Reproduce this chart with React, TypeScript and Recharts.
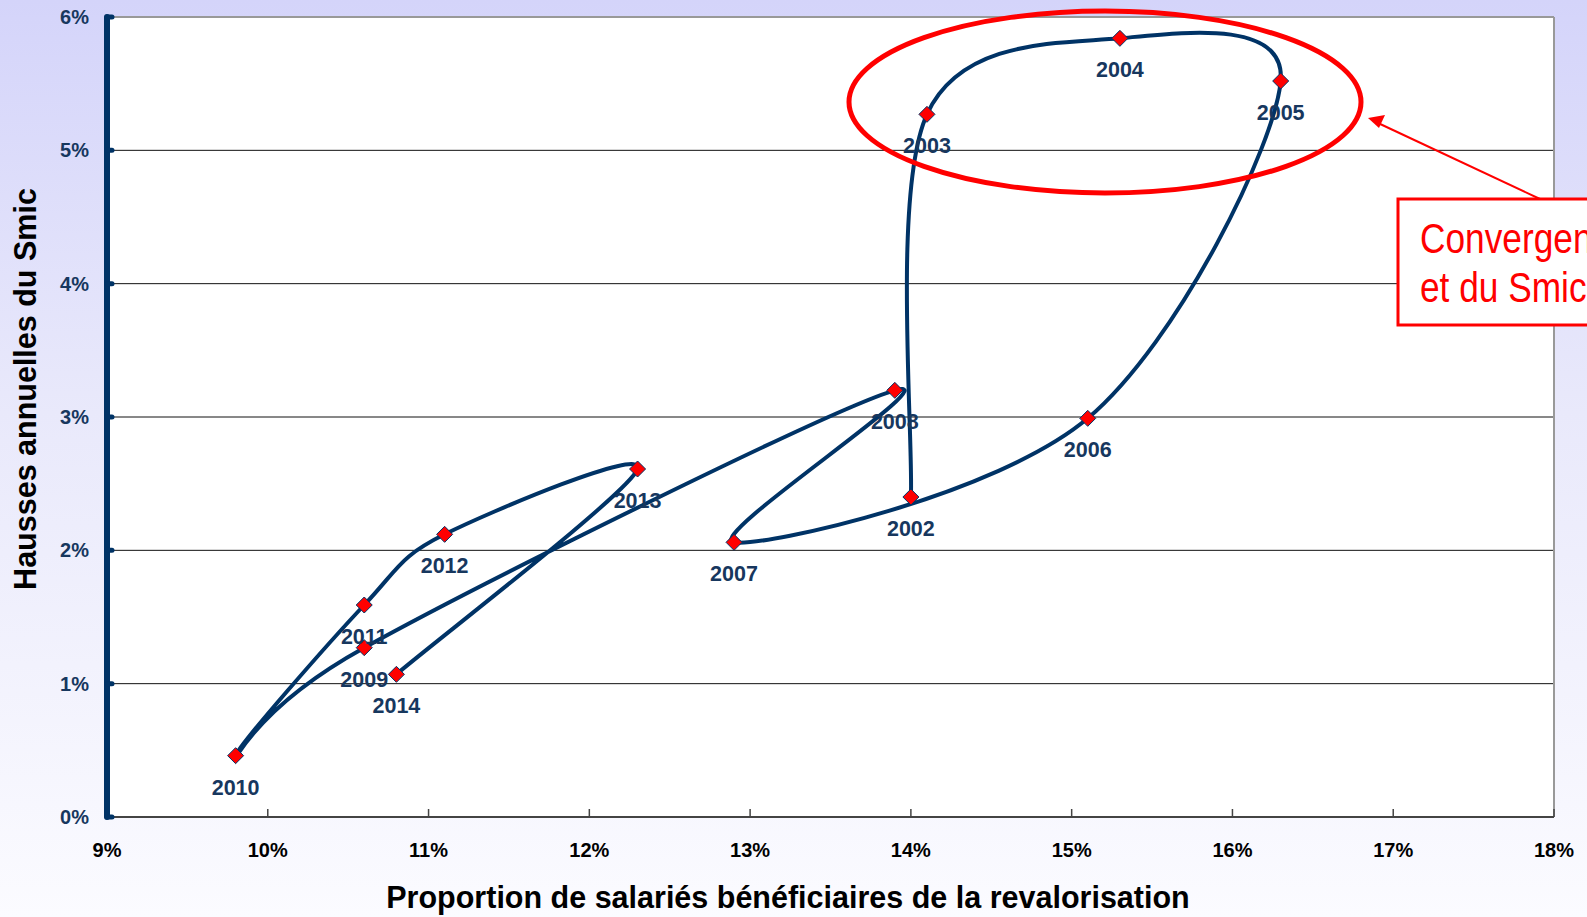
import React from 'react'
import {
  ComposedChart,
  Line,
  XAxis,
  YAxis,
  CartesianGrid,
  ReferenceLine,
  LabelList,
} from 'recharts'

const years = [2002, 2003, 2004, 2005, 2006, 2007, 2008, 2009, 2010, 2011, 2012, 2013, 2014]
const proportion = [14.0, 14.1, 15.3, 16.3, 15.1, 12.9, 13.9, 10.6, 9.8, 10.6, 11.1, 12.3, 10.8]
const hausse = [2.4, 5.27, 5.84, 5.52, 2.99, 2.06, 3.2, 1.27, 0.46, 1.59, 2.12, 2.61, 1.07]

const xTicks = [9, 10, 11, 12, 13, 14, 15, 16, 17, 18]
const yTicks = [0, 1, 2, 3, 4, 5, 6]

const data = years.map((year, i) => ({ year, x: proportion[i], y: hausse[i] }))

const NAVY = '#003366'
const FONT = '"Liberation Sans", Arial, sans-serif'

// smoothed line like Excel's "lissage" (catmull-rom as bezier)
function smoothCurve(context: any) {
  let pts: number[][] = []
  return {
    areaStart() {},
    areaEnd() {},
    lineStart() {
      pts = []
    },
    point(x: number, y: number) {
      pts.push([+x, +y])
    },
    lineEnd() {
      const n = pts.length
      if (!n) return
      context.moveTo(pts[0][0], pts[0][1])
      for (let i = 0; i < n - 1; i++) {
        const p0 = pts[Math.max(i - 1, 0)]
        const p1 = pts[i]
        const p2 = pts[i + 1]
        const p3 = pts[Math.min(i + 2, n - 1)]
        context.bezierCurveTo(
          p1[0] + (p2[0] - p0[0]) / 6,
          p1[1] + (p2[1] - p0[1]) / 6,
          p2[0] - (p3[0] - p1[0]) / 6,
          p2[1] - (p3[1] - p1[1]) / 6,
          p2[0],
          p2[1]
        )
      }
    },
  }
}

function Diamond(props: any) {
  const { cx, cy } = props
  if (cx == null || cy == null) return null
  const r = 8
  return (
    <path
      d={`M${cx},${cy - r}L${cx + r},${cy}L${cx},${cy + r}L${cx - r},${cy}Z`}
      fill="#ff0000"
      stroke={NAVY}
      strokeWidth={1}
    />
  )
}

function YearLabel(props: any) {
  const x = props.x ?? props.viewBox?.x
  const y = props.y ?? props.viewBox?.y
  if (x == null || y == null) return null
  return (
    <text
      x={x}
      y={y + 32}
      textAnchor="middle"
      dominantBaseline="central"
      fontFamily={FONT}
      fontWeight="bold"
      fontSize={21.5}
      fill="#17375e"
    >
      {props.value}
    </text>
  )
}

function YTick(props: any) {
  const { x, y, payload } = props
  return (
    <g>
      <line x1={x + 8} x2={x + 13} y1={y} y2={y} stroke={NAVY} strokeWidth={5} strokeLinecap="round" />
      <text
        x={x - 10}
        y={y}
        textAnchor="end"
        dominantBaseline="central"
        fontFamily={FONT}
        fontWeight="bold"
        fontSize={20}
        fill="#17375e"
      >
        {payload.value}%
      </text>
    </g>
  )
}

function XTick(props: any) {
  const { x, y, payload } = props
  return (
    <g>
      {payload.value > 9 && (
        <line x1={x} x2={x} y1={y - 8} y2={y - 16} stroke="#444" strokeWidth={1.5} />
      )}
      <text
        x={x}
        y={y + 25}
        textAnchor="middle"
        dominantBaseline="central"
        fontFamily={FONT}
        fontWeight="bold"
        fontSize={20}
        fill="#000"
      >
        {payload.value}%
      </text>
    </g>
  )
}

export default function App() {
  return (
    <div
      style={{
        position: 'fixed',
        left: 0,
        top: 0,
        width: 1587,
        height: 917,
        overflow: 'hidden',
        background: 'linear-gradient(#d4d4fa 0%, #e9e9fb 45%, #fbfbff 100%)',
      }}
    >
      <ComposedChart
        width={1587}
        height={917}
        data={data}
        margin={{ top: 17, right: 33, bottom: 60, left: 47 }}
      >
        <CartesianGrid vertical={false} stroke="#111" fill="#fff" />
        <XAxis
          type="number"
          dataKey="x"
          domain={[9, 18]}
          ticks={xTicks}
          height={40}
          tickLine={false}
          axisLine={{ stroke: '#444', strokeWidth: 2 }}
          tick={<XTick />}
          interval={0}
        />
        <YAxis
          type="number"
          domain={[0, 6]}
          ticks={yTicks}
          width={60}
          tickLine={false}
          axisLine={{ stroke: NAVY, strokeWidth: 6, strokeLinecap: 'round' }}
          tick={<YTick />}
          interval={0}
        />
        <ReferenceLine y={6} stroke="#999" strokeWidth={2} />
        <ReferenceLine x={18} stroke="#999" strokeWidth={2} />
        <Line
          dataKey="y"
          type={smoothCurve as any}
          stroke={NAVY}
          strokeWidth={4}
          dot={<Diamond />}
          activeDot={false}
          isAnimationActive={false}
        >
          <LabelList dataKey="year" content={<YearLabel />} />
        </Line>
      </ComposedChart>
      <svg
        width={1587}
        height={917}
        style={{ position: 'absolute', left: 0, top: 0, pointerEvents: 'none' }}
      >
        <ellipse cx={1105} cy={102} rx={256} ry={91} fill="none" stroke="#ff0000" strokeWidth={5} />
        <line x1={1540} y1={199} x2={1378} y2={123} stroke="#ff0000" strokeWidth={2} />
        <path d="M1368,118 L1385,115 L1379,128 Z" fill="#ff0000" />
        <rect x={1398} y={199} width={220} height={126} fill="#fff" stroke="#ff0000" strokeWidth={3} />
        <g transform="translate(1420,0) scale(0.84,1)">
          <text x={0} y={253} fontFamily={FONT} fontSize={42} fill="#ff0000">
            Convergence
          </text>
          <text x={0} y={302} fontFamily={FONT} fontSize={42} fill="#ff0000">
            et du Smic
          </text>
        </g>
        <text
          x={788}
          y={908}
          textAnchor="middle"
          fontFamily={FONT}
          fontWeight="bold"
          fontSize={30.5}
          fill="#000"
        >
          Proportion de salariés bénéficiaires de la revalorisation
        </text>
        <text
          transform="translate(36,389) rotate(-90)"
          textAnchor="middle"
          fontFamily={FONT}
          fontWeight="bold"
          fontSize={30.5}
          fill="#000"
        >
          Hausses annuelles du Smic
        </text>
      </svg>
    </div>
  )
}
